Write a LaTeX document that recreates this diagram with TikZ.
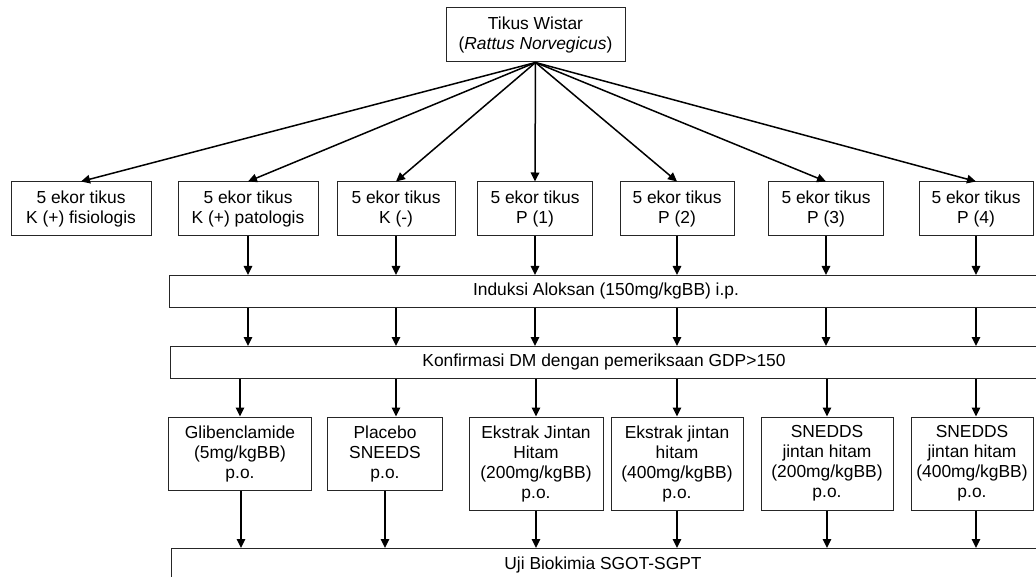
\documentclass[tikz,border=0pt]{standalone}
\usepackage{fontspec}
\setmainfont{Liberation Sans}
\usetikzlibrary{arrows.meta}
\begin{document}
\begin{tikzpicture}[x=1pt,y=-1pt,
  every node/.style={font=\fontsize{17.4}{20}\selectfont, text=black, inner sep=0pt, align=center},
  box/.style={draw=black!85, line width=1pt, rectangle},
  bar/.style={draw=black!85, line width=1pt, rectangle, anchor=north west},
  arr/.style={line width=1.5pt, -{Triangle[length=9pt,width=8.5pt]}}]
\useasboundingbox (0,0) rectangle (1036,577);
\clip (0,0) rectangle (1036,577);
\fill[white] (0,0) rectangle (1036,577);

% top
\node[box, minimum width=179pt, minimum height=54pt] (top) at (535.5,35) {Tikus Wistar\\(\textit{Rattus Norvegicus})};

% row 1
\foreach \n/\cx/\w/\t in {r1/81/140/{K (+) fisiologis}, r2/248/140/{K (+) patologis}, r3/396/118/{K (-)}, r4/535/115/{P (1)}, r5/677/114/{P (2)}, r6/826/115/{P (3)}, r7/976/114/{P (4)}}
  \node[box, minimum width=\w pt, minimum height=54pt] (\n) at (\cx,209) {5 ekor tikus\\\t};

\foreach \n in {r1,r2,r3,r4,r5,r6,r7}
  \draw[arr] (top.south) -- (\n.north);

% bars
\node[bar, minimum width=900pt, minimum height=32pt] (bar1) at (169,275) {};
\node (t1) at (606,291) {Induksi Aloksan (150mg/kgBB) i.p.};
\node[bar, minimum width=900pt, minimum height=32pt] (bar2) at (170,346) {};
\node (t2) at (604,362) {Konfirmasi DM dengan pemeriksaan GDP>150};
\node[bar, minimum width=900pt, minimum height=60pt] (bar3) at (171,548) {};
\node (t3) at (603,565) {Uji Biokimia SGOT-SGPT};

\foreach \n in {r2,r3,r4,r5,r6,r7} {
  \draw[arr] (\n.south) -- (\n.south |- bar1.north);
  \draw[arr] (\n.south |- bar1.south) -- (\n.south |- bar2.north);
}

% row 3
\node[box, minimum width=143pt, minimum height=73pt] (g1) at (240,453.5) {Glibenclamide\\(5mg/kgBB)\\p.o.};
\node[box, minimum width=115pt, minimum height=73pt] (g2) at (385,453.5) {Placebo\\SNEEDS\\p.o.};
\node[box, minimum width=134pt, minimum height=93pt] (g3) at (536,463.5) {Ekstrak Jintan\\Hitam\\(200mg/kgBB)\\p.o.};
\node[box, minimum width=132pt, minimum height=93pt] (g4) at (677,463.5) {Ekstrak jintan\\hitam\\(400mg/kgBB)\\p.o.};
\node[box, minimum width=132pt, minimum height=93pt] (g5) at (827,463.5) {SNEDDS\\jintan hitam\\(200mg/kgBB)\\p.o.};
\node[box, minimum width=122pt, minimum height=93pt] (g6) at (972,463.5) {SNEDDS\\jintan hitam\\(400mg/kgBB)\\p.o.};

\draw[arr] (g1.north |- bar2.south) -- (g1.north);
\draw[arr] (r3.south |- bar2.south) -- (r3.south |- g2.north);
\draw[arr] (g3.north |- bar2.south) -- (g3.north);
\draw[arr] (r5.south |- bar2.south) -- (r5.south |- g4.north);
\draw[arr] (g5.north |- bar2.south) -- (g5.north);
\draw[arr] (r7.south |- bar2.south) -- (r7.south |- g6.north);

\coordinate (g1o) at ([xshift=1pt]g1.south);
\draw[arr] (g1o) -- (g1o |- bar3.north);
\draw[arr] (g2.south) -- (g2.south |- bar3.north);
\draw[arr] (g3.south) -- (g3.south |- bar3.north);
\draw[arr] (g4.south) -- (g4.south |- bar3.north);
\draw[arr] (g5.south) -- (g5.south |- bar3.north);
\coordinate (g6o) at (r7.south |- g6.south);
\draw[arr] (g6o) -- (g6o |- bar3.north);
\end{tikzpicture}
\end{document}
